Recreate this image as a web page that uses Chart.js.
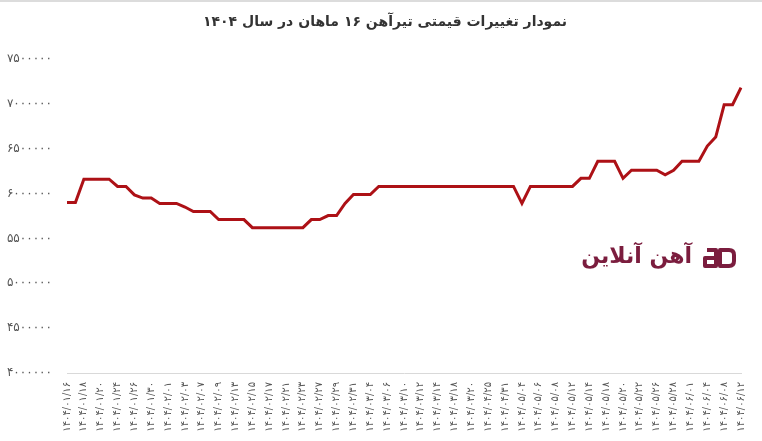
<!DOCTYPE html>
<html lang="fa">
<head>
<meta charset="utf-8">
<title>نمودار تغییرات قیمتی تیرآهن</title>
<script src="https://cdn.jsdelivr.net/npm/chart.js@4.4.1/dist/chart.umd.min.js"></script>
<style>
  html, body { margin: 0; padding: 0; background: #fff; }
  #wrap { position: relative; width: 762px; height: 441px; }
  #topline { position: absolute; left: 0; top: 0; width: 762px; height: 2px; background: #dcdcdc; }
</style>
</head>
<body>
<div id="wrap">
  <div id="topline"></div>
  <canvas id="priceChart"></canvas>
</div>
<script>
// عنوان نمودار
const chartTitle = 'نمودار تغییرات قیمتی تیرآهن ۱۶ ماهان در سال ۱۴۰۴';
const logoText = 'آهن آنلاین';

// تاریخ‌ها (هر دومی روی محور نمایش داده می‌شود)
const dates = [
  '1404/01/16', '1404/01/17', '1404/01/18', '1404/01/19', '1404/01/20', '1404/01/23',
  '1404/01/24', '1404/01/25', '1404/01/26', '1404/01/27', '1404/01/30', '1404/01/31',
  '1404/02/01', '1404/02/02', '1404/02/03', '1404/02/06', '1404/02/07', '1404/02/08',
  '1404/02/09', '1404/02/10', '1404/02/13', '1404/02/14', '1404/02/15', '1404/02/16',
  '1404/02/17', '1404/02/20', '1404/02/21', '1404/02/22', '1404/02/23', '1404/02/24',
  '1404/02/27', '1404/02/28', '1404/02/29', '1404/02/30', '1404/02/31', '1404/03/03',
  '1404/03/04', '1404/03/05', '1404/03/06', '1404/03/08', '1404/03/10', '1404/03/11',
  '1404/03/12', '1404/03/13', '1404/03/14', '1404/03/17', '1404/03/18', '1404/03/19',
  '1404/03/20', '1404/04/22', '1404/04/25', '1404/04/28', '1404/04/31', '1404/05/01',
  '1404/05/04', '1404/05/05', '1404/05/06', '1404/05/07', '1404/05/08', '1404/05/11',
  '1404/05/12', '1404/05/13', '1404/05/14', '1404/05/15', '1404/05/18', '1404/05/19',
  '1404/05/20', '1404/05/21', '1404/05/22', '1404/05/25', '1404/05/26', '1404/05/27',
  '1404/05/28', '1404/05/29', '1404/06/01', '1404/06/03', '1404/06/04', '1404/06/05',
  '1404/06/08', '1404/06/10', '1404/06/12'
];

// قیمت (ریال)
const prices = [
  5900000, 5900000, 6160000, 6160000, 6160000, 6160000, 6080000, 6080000, 5985000, 5950000,
  5950000, 5890000, 5890000, 5890000, 5850000, 5800000, 5800000, 5800000, 5710000, 5710000,
  5710000, 5710000, 5620000, 5620000, 5620000, 5620000, 5620000, 5620000, 5620000, 5710000,
  5710000, 5755000, 5755000, 5890000, 5990000, 5990000, 5990000, 6080000, 6080000, 6080000,
  6080000, 6080000, 6080000, 6080000, 6080000, 6080000, 6080000, 6080000, 6080000, 6080000,
  6080000, 6080000, 6080000, 6080000, 5890000, 6080000, 6080000, 6080000, 6080000, 6080000,
  6080000, 6170000, 6170000, 6360000, 6360000, 6360000, 6170000, 6260000, 6260000, 6260000,
  6260000, 6210000, 6260000, 6360000, 6360000, 6360000, 6530000, 6630000, 6990000, 6990000,
  7180000
];

// برچسب‌های محور عمودی
const yTickValues = [4000000, 4500000, 5000000, 5500000, 6000000, 6500000, 7000000, 7500000];

const toFa = (s) => String(s).replace(/\d/g, d => '۰۱۲۳۴۵۶۷۸۹'[d]);
const FONT = "'DejaVu Sans', sans-serif";

// عنوان بالای نمودار
const titlePlugin = {
  id: 'faTitle',
  afterDraw(chart) {
    const ctx = chart.ctx;
    ctx.save();
    ctx.fillStyle = '#333';
    ctx.font = "bold 14px " + FONT;
    ctx.textAlign = 'center';
    ctx.textBaseline = 'middle';
    ctx.fillText(chartTitle, 385, 22);
    ctx.restore();
  }
};

// لوگوی آهن آنلاین در پس‌زمینه
const logoPlugin = {
  id: 'logo',
  afterDraw(chart) {
    const ctx = chart.ctx;
    const color = '#7b1d3e';
    ctx.save();
    ctx.fillStyle = color;
    ctx.font = "bold 22px " + FONT;
    ctx.textAlign = 'right';
    ctx.textBaseline = 'middle';
    ctx.fillText(logoText, 692, 257);
    // نشان
    ctx.strokeStyle = color;
    ctx.lineWidth = 4;
    ctx.lineJoin = 'round';
    ctx.beginPath();
    ctx.moveTo(707, 250); ctx.lineTo(716, 250); ctx.lineTo(716, 266);
    ctx.lineTo(705, 266); ctx.lineTo(705, 258); ctx.lineTo(716, 258);
    ctx.stroke();
    ctx.beginPath();
    ctx.moveTo(720, 250); ctx.lineTo(729, 250); ctx.quadraticCurveTo(734, 250, 734, 255);
    ctx.lineTo(734, 261); ctx.quadraticCurveTo(734, 266, 729, 266); ctx.lineTo(720, 266);
    ctx.closePath();
    ctx.stroke();
    ctx.restore();
  }
};

const ctx = document.getElementById('priceChart').getContext('2d');
window.priceChartInstance = new Chart(ctx, {
  type: 'line',
  data: {
    labels: dates,
    datasets: [{
      label: 'قیمت',
      data: prices,
      borderColor: '#ad1116',
      backgroundColor: '#ad1116',
      borderWidth: 3,
      fill: false,
      tension: 0,
      pointRadius: 0,
      pointHoverRadius: 0
    }]
  },
  options: {
    responsive: true,
    maintainAspectRatio: false,
    animation: false,
    layout: { padding: { left: 0, right: 16, top: 59, bottom: 0 } },
    plugins: {
      legend: { display: false },
      tooltip: { enabled: false },
      title: { display: false }
    },
    scales: {
      x: {
        grid: { display: false, drawTicks: false },
        border: { display: true, color: '#d9d9d9', width: 1 },
        ticks: {
          autoSkip: false,
          maxRotation: 90,
          minRotation: 90,
          padding: 9,
          color: '#555',
          font: { family: FONT, size: 10 },
          callback: (v, i) => (i % 2 === 0 ? toFa(dates[i]) : '')
        },
        afterFit: (scale) => { scale.height = 68; }
      },
      y: {
        min: 4000000,
        max: 7500000,
        grid: { display: false, drawTicks: false },
        border: { display: false },
        ticks: {
          stepSize: 500000,
          padding: 15,
          color: '#555',
          font: { family: FONT, size: 12 },
          callback: (v) => (yTickValues.includes(v) ? toFa(v) : '')
        },
        afterFit: (scale) => { scale.width = 67; }
      }
    }
  },
  plugins: [titlePlugin, logoPlugin]
});
</script>
</body>
</html>
